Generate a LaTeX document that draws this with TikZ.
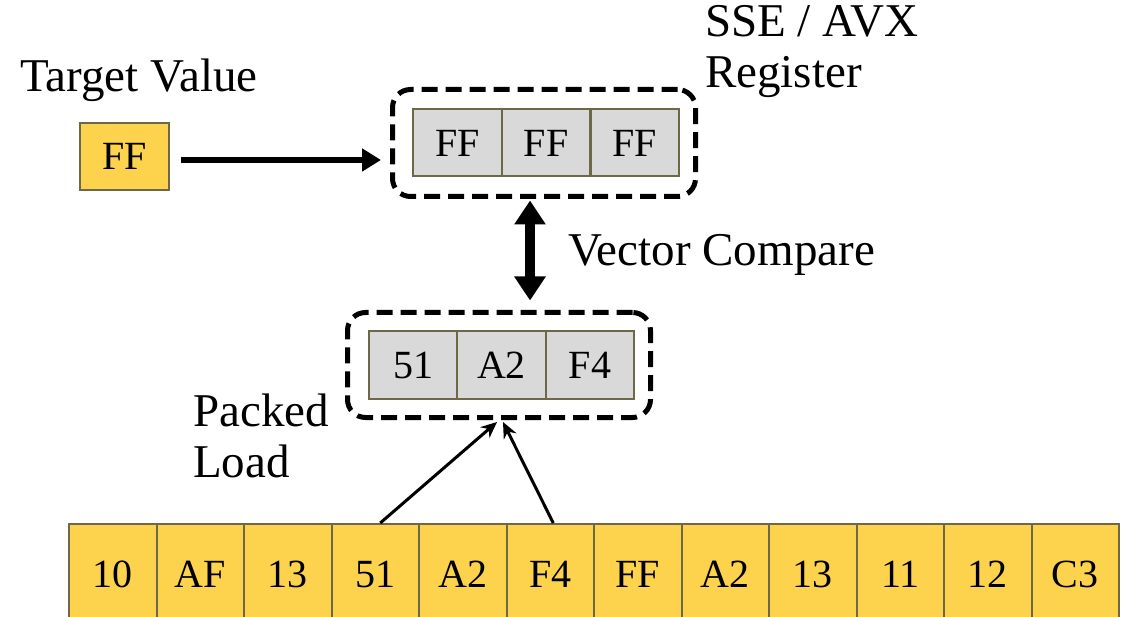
\documentclass[tikz,border=0pt]{standalone}
\usepackage{fontspec}
\setmainfont{Liberation Serif}
\usetikzlibrary{arrows.meta,positioning}
\definecolor{cellyellow}{RGB}{253,211,77}
\definecolor{cellgray}{RGB}{217,217,217}
\definecolor{celledge}{RGB}{108,104,72}
\tikzset{
  cell/.style={draw=celledge, line width=2pt, inner sep=0pt, minimum width=88.5pt, minimum height=67pt, font=\fontsize{40}{48}\selectfont},
  memcell/.style={cell, fill=cellyellow, minimum width=87.5pt, minimum height=100pt},
  regcell/.style={cell, fill=cellgray},
  regbox/.style={draw, line width=5pt, dash pattern=on 16pt off 8pt, rounded corners=18pt, inner sep=0pt},
  lbl/.style={font=\fontsize{47}{51}\selectfont, inner sep=0pt, align=left, anchor=base west}
}

\begin{document}
\begin{tikzpicture}[x={(1pt,0pt)},y={(0pt,-1pt)}]
\useasboundingbox (0,0) rectangle (1129,617);
% memory row
\foreach \v [count=\i] in {10,AF,13,51,A2,F4,FF,A2,13,11,12,C3}
  \node[memcell] (m\i) at ({69+87.5*(\i-0.5)},574) {\v};
% target value
\node[cell, fill=cellyellow, minimum width=89pt] (tgt) at (124.5,156.5) {FF};
\node[lbl] (tgtlbl) at (20,92) {Target Value};
% SSE / AVX register
\foreach \j in {1,2,3}
  \node[regcell] (r\j) at ({413+88.7*(\j-0.5)},143) {FF};
\node[regbox, minimum width=303pt, minimum height=107pt] (reg) at (544,143) {};
\node[lbl] (reglbl) at (705,88) {SSE / AVX\\Register};
% packed load
\node[regcell] (p1) at (413.5,365) {51};
\node[regcell] (p2) at (501.5,365) {A2};
\node[regcell] (p3) at (590,365) {F4};
\node[regbox, minimum width=303pt, minimum height=105pt] (low) at (499,365) {};
\node[lbl] (loadlbl) at (193,477) {Packed\\Load};
\node[lbl] (cmplbl) at (568,266) {Vector Compare};
% connectors
\draw[line width=6pt, -{Triangle[length=19pt,width=22pt]}] ([xshift=11pt,yshift=-3.5pt]tgt.east) -- ([xshift=-9pt,yshift=-3.5pt]tgt.east -| reg.west);
\draw[line width=10pt, {Triangle[length=24pt,width=30pt]}-{Triangle[length=24pt,width=30pt]}] ([xshift=-14pt,yshift=-1.5pt]reg.south) -- ([xshift=31pt,yshift=9.5pt]low.north);
\draw[line width=3pt, -{Stealth[length=16pt,width=14pt]}] ([xshift=5pt]m4.north) -- ([xshift=-2pt,yshift=-2pt]low.south);
\draw[line width=3pt, -{Stealth[length=16pt,width=14pt]}] ([xshift=3pt]m6.north) -- ([xshift=4pt,yshift=-2pt]low.south);
\end{tikzpicture}
\end{document}
